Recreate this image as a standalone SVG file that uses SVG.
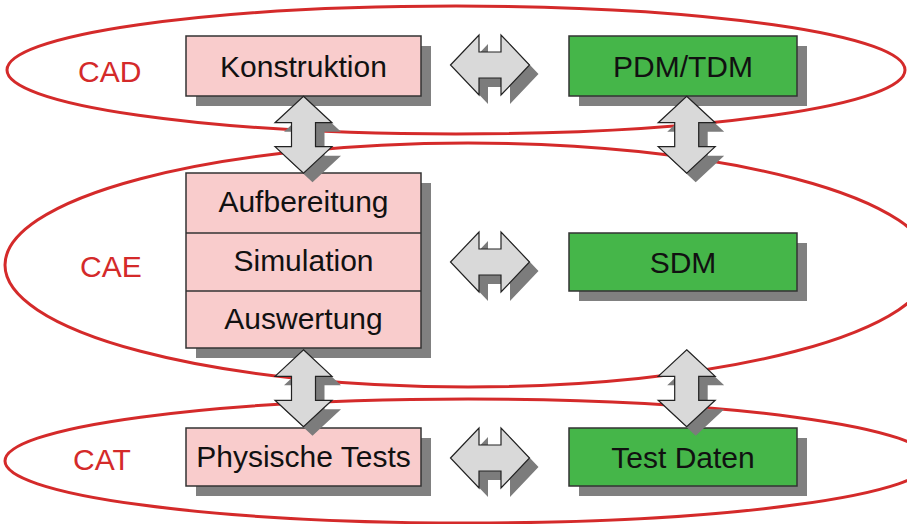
<svg xmlns="http://www.w3.org/2000/svg" width="907" height="524" viewBox="0 0 907 524">
  <style>
    .zone { fill: none; stroke: #d42a2a; stroke-width: 3; }
    .zlabel { font-family: "Liberation Sans", Arial, sans-serif; font-size: 30px; fill: #d42a2a; }
    .shadow { fill: #808080; }
    .pink { fill: #f9cccc; stroke: #333; stroke-width: 1.5; }
    .green { fill: #45b649; stroke: #333; stroke-width: 1.5; }
    .sep { stroke: #333; stroke-width: 1.5; }
    .txt { font-family: "Liberation Sans", Arial, sans-serif; font-size: 30px; fill: #111; text-anchor: middle; }
    .arr { fill: #d9d9d9; stroke: #222; stroke-width: 1.2; stroke-linejoin: miter; }
    .arrs { fill: #7c7c7c; }
  </style>
  <defs>
    <path id="harrow" d="M-39.5,0 L-11,-30 L-11,-13 L11,-13 L11,-30 L39.5,0 L11,30 L11,13 L-11,13 L-11,30 Z"/>
    <path id="varrow" d="M0,-38.5 L28.5,-12 L12,-12 L12,12 L28.5,12 L0,38.5 L-28.5,12 L-12,12 L-12,-12 L-28.5,-12 Z"/>
  </defs>

  <!-- process zones -->
  <g id="zones">
    <ellipse class="zone" cx="456" cy="70" rx="449" ry="64"/>
    <ellipse class="zone" cx="468" cy="265" rx="463" ry="122"/>
    <ellipse class="zone" cx="468" cy="461" rx="463" ry="62"/>
    <text class="zlabel" x="78" y="82">CAD</text>
    <text class="zlabel" x="80" y="277">CAE</text>
    <text class="zlabel" x="73" y="470">CAT</text>
  </g>

  <g id="konstruktion">
    <rect class="shadow" x="196" y="46" width="235" height="60"/>
    <rect class="pink" x="186" y="36" width="235" height="60"/>
    <text class="txt" x="303.5" y="77">Konstruktion</text>
  </g>

  <g id="pdm-tdm">
    <rect class="shadow" x="579" y="46" width="228" height="60"/>
    <rect class="green" x="569" y="36" width="228" height="60"/>
    <text class="txt" x="683" y="77">PDM/TDM</text>
  </g>

  <g id="cae-stack">
    <rect class="shadow" x="196" y="183" width="235" height="175"/>
    <rect class="pink" x="186" y="173" width="235" height="175"/>
    <line class="sep" x1="186" y1="233" x2="421" y2="233"/>
    <line class="sep" x1="186" y1="291" x2="421" y2="291"/>
    <text class="txt" x="303.5" y="212">Aufbereitung</text>
    <text class="txt" x="303.5" y="271">Simulation</text>
    <text class="txt" x="303.5" y="329">Auswertung</text>
  </g>

  <g id="sdm">
    <rect class="shadow" x="579" y="243" width="228" height="58"/>
    <rect class="green" x="569" y="233" width="228" height="58"/>
    <text class="txt" x="683" y="273">SDM</text>
  </g>

  <g id="physische-tests">
    <rect class="shadow" x="196" y="438" width="235" height="58"/>
    <rect class="pink" x="186" y="428" width="235" height="58"/>
    <text class="txt" x="303.5" y="467">Physische Tests</text>
  </g>

  <g id="test-daten">
    <rect class="shadow" x="579" y="438" width="228" height="58"/>
    <rect class="green" x="569" y="428" width="228" height="58"/>
    <text class="txt" x="683" y="468">Test Daten</text>
  </g>

  <!-- bidirectional block arrows -->
  <g id="connectors">
    <use href="#harrow" class="arrs" transform="translate(499,74)"/>
    <use href="#harrow" class="arr" transform="translate(490,65)"/>
    <use href="#harrow" class="arrs" transform="translate(499,271)"/>
    <use href="#harrow" class="arr" transform="translate(490,262)"/>
    <use href="#harrow" class="arrs" transform="translate(499,467)"/>
    <use href="#harrow" class="arr" transform="translate(490,458)"/>

    <use href="#varrow" class="arrs" transform="translate(312.5,143.7)"/>
    <use href="#varrow" class="arr" transform="translate(303.5,134.7)"/>
    <use href="#varrow" class="arrs" transform="translate(695.7,143.7)"/>
    <use href="#varrow" class="arr" transform="translate(686.7,134.7)"/>
    <use href="#varrow" class="arrs" transform="translate(312.5,397.3)"/>
    <use href="#varrow" class="arr" transform="translate(303.5,388.3)"/>
    <use href="#varrow" class="arrs" transform="translate(695.7,397.3)"/>
    <use href="#varrow" class="arr" transform="translate(686.7,388.3)"/>
  </g>
</svg>
